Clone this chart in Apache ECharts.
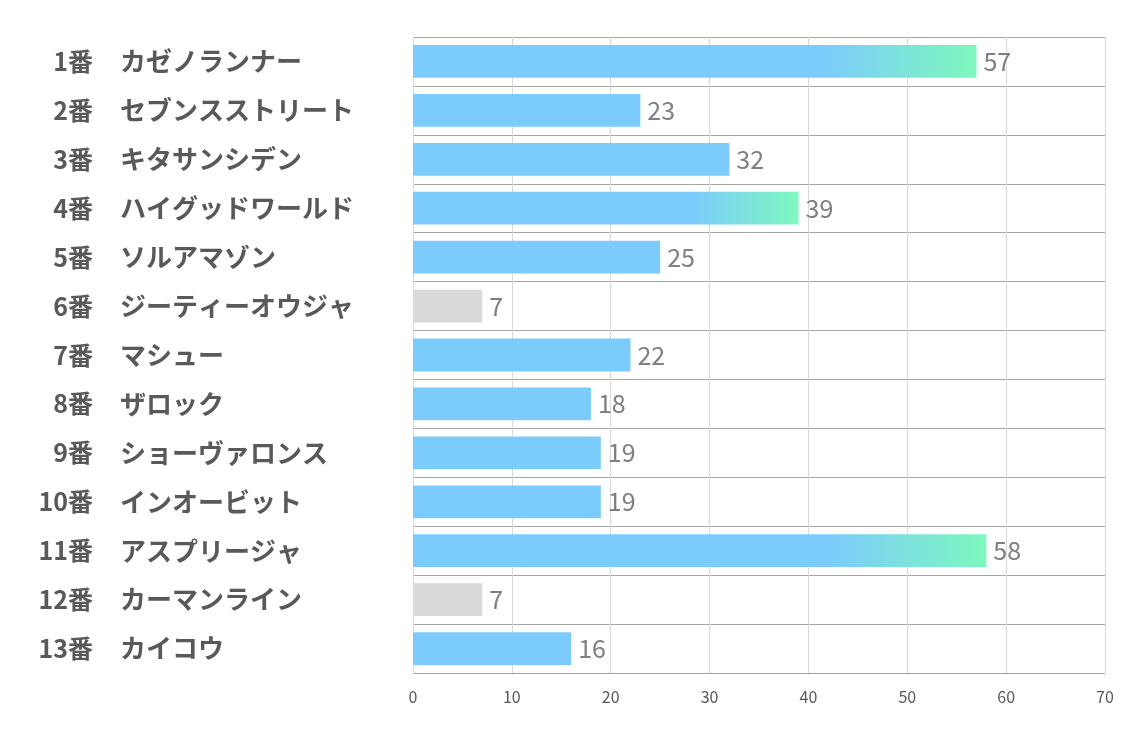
<!DOCTYPE html>
<html><head><meta charset="utf-8">
<script src="https://cdn.jsdelivr.net/npm/echarts@6/dist/echarts.min.js"></script>
<style>html,body{margin:0;padding:0;background:#fff}#c{width:1134px;height:737px}</style>
</head><body><div id="c"></div>
<script>
const numbers = ['1番','2番','3番','4番','5番','6番','7番','8番','9番','10番','11番','12番','13番'];
const names = ['カゼノランナー','セブンスストリート','キタサンシデン','ハイグッドワールド','ソルアマゾン','ジーティーオウジャ','マシュー','ザロック','ショーヴァロンス','インオービット','アスプリージャ','カーマンライン','カイコウ'];
const values = [57,23,32,39,25,7,22,18,19,19,58,7,16];
const barKind = ['top','normal','normal','top','normal','low','normal','normal','normal','normal','top','low','normal'];
const xTicks = [0,10,20,30,40,50,60,70];

const BLUE = '#7ccbfd', GREEN = '#7ef8be', GRAY = '#d9d9d9';
function colorFor(kind){
  if (kind === 'low') return GRAY;
  if (kind === 'top') return new echarts.graphic.LinearGradient(0,0,1,0,[
    {offset:0,color:BLUE},{offset:0.72,color:BLUE},{offset:1,color:GREEN}]);
  return BLUE;
}
const numFont = {fontSize:25,fontWeight:'bold',color:'#595959',fontFamily:'Noto Sans CJK JP'};
const nameFont = {fontSize:26,fontWeight:'bold',color:'#595959',fontFamily:'Noto Sans CJK JP'};
const chart = echarts.init(document.getElementById('c'));
chart.setOption({
  animation:false,
  grid:{left:413,right:29,top:37,bottom:64,containLabel:false},
  xAxis:{type:'value',min:xTicks[0],max:xTicks[xTicks.length-1],interval:10,
    axisLine:{show:false},axisTick:{show:false},
    axisLabel:{color:'#595959',fontSize:16,margin:16,fontFamily:'Noto Sans CJK JP'},
    splitLine:{show:true,lineStyle:{color:'#d9d9d9',width:1}}},
  yAxis:[
    {type:'category',data:numbers,inverse:true,position:'left',
      axisLine:{show:true,lineStyle:{color:'#d9d9d9'}},axisTick:{show:false},
      splitLine:{show:true,lineStyle:{color:'#a6a6a6',width:1}},
      axisLabel:Object.assign({align:'right',margin:320},numFont)},
    {type:'category',data:names,inverse:true,position:'left',offset:0,
      axisLine:{show:false},axisTick:{show:false},splitLine:{show:false},
      axisLabel:Object.assign({align:'left',margin:293},nameFont)}
  ],
  series:[{type:'bar',yAxisIndex:0,barCategoryGap:'33%',
    data:values.map((v,i)=>({value:v,itemStyle:{color:colorFor(barKind[i])}})),
    label:{show:true,position:'right',distance:7,color:'#7f7f7f',fontSize:25,fontFamily:'Noto Sans CJK JP'}
  }]
});
</script></body></html>
